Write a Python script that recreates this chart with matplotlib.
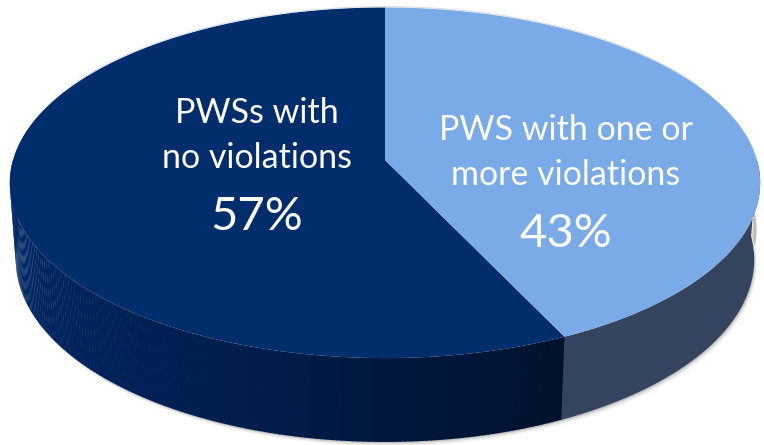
import numpy as np
import matplotlib
matplotlib.use("Agg")
import matplotlib.pyplot as plt
from matplotlib.patches import Polygon

# data
labels = ["PWSs with\nno violations", "PWS with one or\nmore violations"]
shares = [57, 43]
top_colors = ["#022d6c", "#7baae9"]
side_dark = [np.array([0.0, 0.16, 0.42]), np.array([0.0, 0.07, 0.18])]
side_light = "#34445f"

# camera set-up for a tilted, slightly perspective disc
phi = np.radians(27.6)
D = 6.82
L, H = D * np.cos(phi), D * np.sin(phi)
cam = np.array([0.0, -L, H])
fwd = np.array([0.0, L, -H]) / D
right = np.array([1.0, 0.0, 0.0])
up = np.array([0.0, H / D, L / D])
scale = 2537.0
cx, cy = 385.0, 160.0
depth = 0.235


def proj(theta, z=0.0, r=1.0):
    theta = np.atleast_1d(theta)
    p = np.stack([r * np.cos(theta), r * np.sin(theta),
                  np.full_like(theta, z, dtype=float)], axis=1)
    d = p - cam
    w = d @ fwd
    x = (d @ right) / w
    y = (d @ up) / w
    return np.column_stack([cx + scale * x, cy - scale * y])


fig = plt.figure(figsize=(7.64, 4.45), dpi=100)
ax = fig.add_axes([0, 0, 1, 1])
ax.set_xlim(0, 764)
ax.set_ylim(445, 0)
ax.axis("off")

# slice angles: start at 12 o'clock, go clockwise
frac = np.array(shares) / sum(shares)
split = np.pi / 2 - frac[1] * 2 * np.pi   # end of the light slice (world angle)

# soft shadow under the base
front = np.linspace(np.pi, 2 * np.pi, 200)
base = proj(front, -depth)
for k, a in zip([7, 5, 3, 1.5], [0.04, 0.06, 0.08, 0.10]):
    pts = base + np.array([k * 0.4, k * 0.6])
    poly = np.vstack([pts, proj(front[::-1], -depth * 0.6)])
    ax.add_patch(Polygon(poly, closed=True, fc="black", ec="none", alpha=a))

# side walls, drawn in thin strips so the shading can vary
dark_end = split + 2 * np.pi
th = np.linspace(np.pi, dark_end, 160)
for i in range(len(th) - 1):
    t0, t1 = th[i], th[i + 1] + 0.002
    s = (i / (len(th) - 2)) ** 1.3
    col = side_dark[0] * (1 - s) + side_dark[1] * s
    quad = np.vstack([proj([t0, t1], 0.0), proj([t1, t0], -depth)])
    ax.add_patch(Polygon(quad, closed=True, fc=col, ec="none"))

th2 = np.linspace(dark_end, 2 * np.pi, 60)
wall = np.vstack([proj(th2, 0.0), proj(th2[::-1], -depth)])
ax.add_patch(Polygon(wall, closed=True, fc=side_light, ec="none"))

# top faces
centre = proj(0.0, 0.0, r=0.0)
dark_th = np.linspace(np.pi / 2, dark_end, 300)
light_th = np.linspace(split, np.pi / 2, 200)
ax.add_patch(Polygon(np.vstack([centre, proj(dark_th)]), closed=True,
                     fc=top_colors[0], ec="none"))
ax.add_patch(Polygon(np.vstack([centre, proj(light_th)]), closed=True,
                     fc=top_colors[1], ec="none"))

# faint rim highlight on the far edge
rim = proj(np.linspace(0.15 * np.pi, 0.85 * np.pi, 100))
ax.plot(rim[:, 0], rim[:, 1] - 0.8, color="#c8d0dc", lw=0.8, alpha=0.7)

# labels: (x centre, first-line baseline, percent baseline)
font = "Lato"
label_pos = [(257, 123, 230), (566, 140, 247)]
for text, share, (x, y0, yp) in zip(labels, shares, label_pos):
    for j, line in enumerate(text.split("\n")):
        ax.text(x, y0 + 45 * j, line, ha="center", va="baseline",
                color="white", fontsize=24.5, family=font)
    ax.text(x, yp, f"{share}%", ha="center", va="baseline", color="white",
            fontsize=34, family=font)

fig.savefig("out.png", dpi=100)
